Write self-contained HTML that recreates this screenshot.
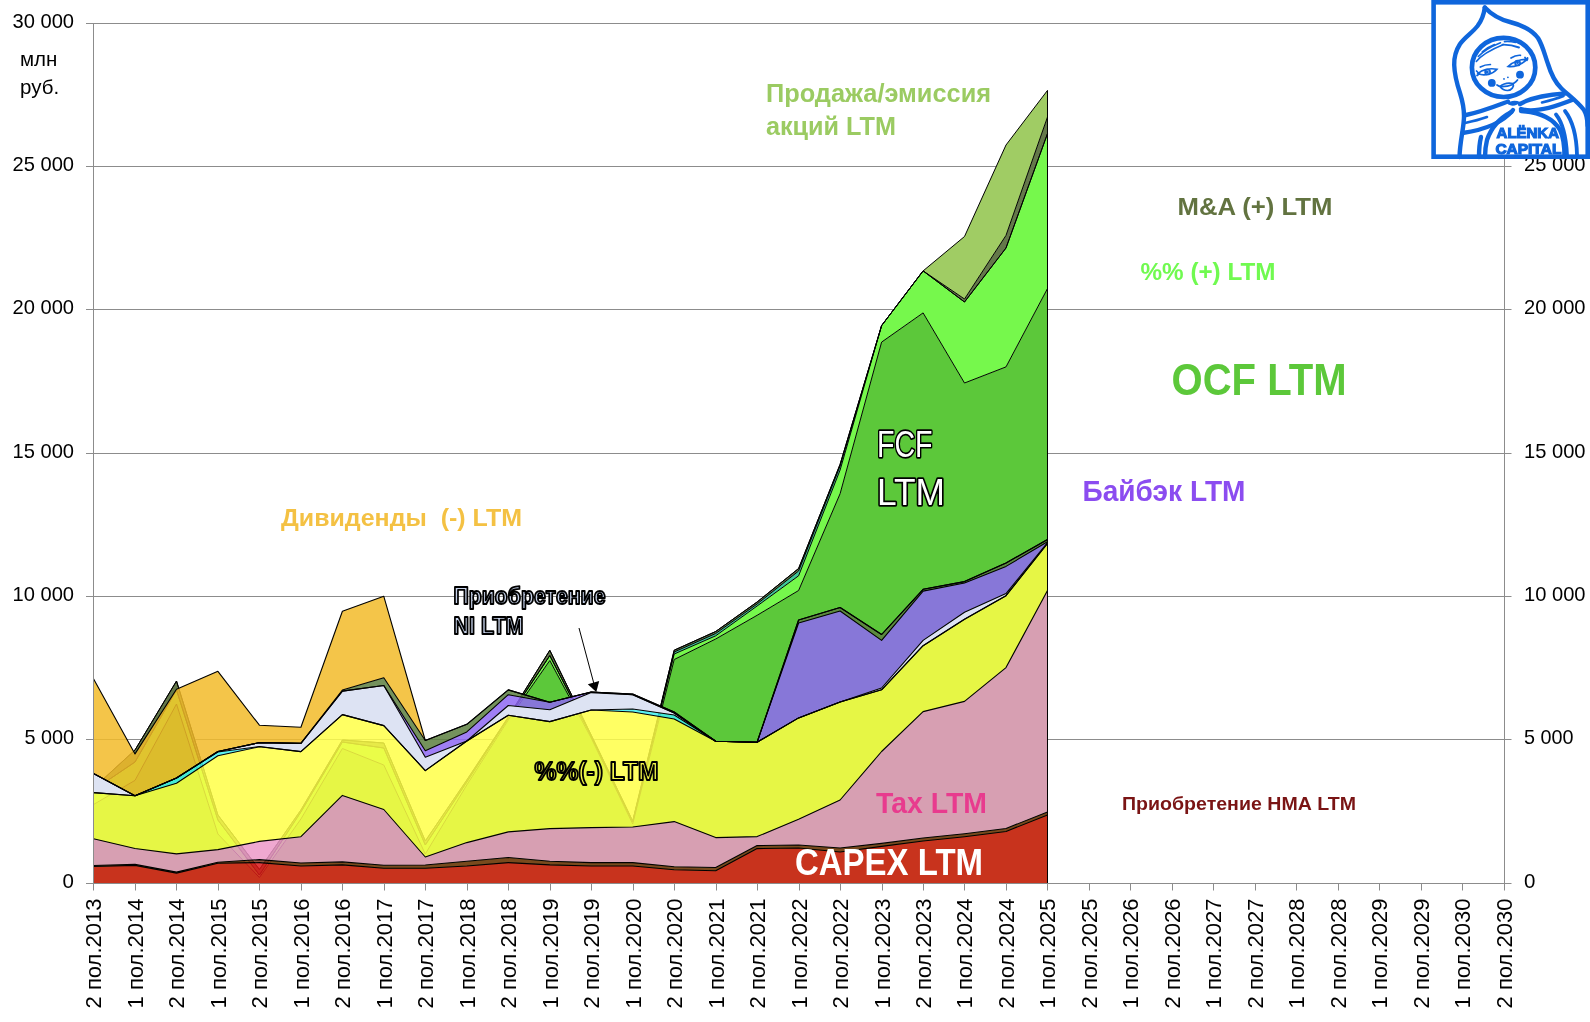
<!DOCTYPE html><html><head><meta charset="utf-8"><title>chart</title><style>html,body{margin:0;padding:0;background:#fff;width:1590px;height:1022px;overflow:hidden}svg{display:block;will-change:transform;font-family:"Liberation Sans",sans-serif}</style></head><body>
<svg width="1590" height="1022" viewBox="0 0 1590 1022">
<rect width="1590" height="1022" fill="#fff"/>
<line x1="86" y1="23.5" x2="1511.5" y2="23.5" stroke="#8c8c8c" stroke-width="1"/>
<line x1="86" y1="166.5" x2="1511.5" y2="166.5" stroke="#8c8c8c" stroke-width="1"/>
<line x1="86" y1="309.5" x2="1511.5" y2="309.5" stroke="#8c8c8c" stroke-width="1"/>
<line x1="86" y1="453.5" x2="1511.5" y2="453.5" stroke="#8c8c8c" stroke-width="1"/>
<line x1="86" y1="596.5" x2="1511.5" y2="596.5" stroke="#8c8c8c" stroke-width="1"/>
<line x1="86" y1="739.5" x2="1511.5" y2="739.5" stroke="#8c8c8c" stroke-width="1"/>
<polygon points="93.5,804.5 135.0,780.4 176.5,704.0 217.9,834.0 259.4,877.5 300.9,819.0 342.4,748.5 383.8,765.0 425.3,854.0 466.8,785.0 508.3,720.0 549.8,660.5 591.2,738.0 632.7,824.0 674.2,659.5 715.7,639.0 757.1,615.3 798.6,590.5 840.1,493.7 881.6,342.1 923.1,312.9 964.5,383.0 1006.0,366.9 1047.5,288.5 1047.5,883.5 1006.0,883.5 964.5,883.5 923.1,883.5 881.6,883.5 840.1,883.5 798.6,883.5 757.1,883.5 715.7,883.5 674.2,883.5 632.7,883.5 591.2,883.5 549.8,883.5 508.3,883.5 466.8,883.5 425.3,883.5 383.8,883.5 342.4,883.5 300.9,883.5 259.4,883.5 217.9,883.5 176.5,883.5 135.0,883.5 93.5,883.5" fill="#5cc83a"/>
<polygon points="93.5,790.0 135.0,762.0 176.5,690.0 217.9,820.0 259.4,875.0 300.9,812.0 342.4,742.0 383.8,748.0 425.3,845.0 466.8,782.0 508.3,718.0 549.8,655.6 591.2,736.0 632.7,822.0 674.2,654.0 715.7,635.8 757.1,606.0 798.6,575.8 840.1,470.0 881.6,325.6 923.1,270.9 964.5,302.0 1006.0,248.0 1047.5,133.6 1047.5,288.5 1006.0,366.9 964.5,383.0 923.1,312.9 881.6,342.1 840.1,493.7 798.6,590.5 757.1,615.3 715.7,639.0 674.2,659.5 632.7,824.0 591.2,738.0 549.8,660.5 508.3,720.0 466.8,785.0 425.3,854.0 383.8,765.0 342.4,748.5 300.9,819.0 259.4,877.5 217.9,834.0 176.5,704.0 135.0,780.4 93.5,804.5" fill="#76f84c"/>
<polygon points="93.5,790.0 135.0,762.0 176.5,690.0 217.9,820.0 259.4,875.0 300.9,812.0 342.4,742.0 383.8,748.0 425.3,845.0 466.8,782.0 508.3,718.0 549.8,655.6 591.2,736.0 632.7,822.0 674.2,652.0 715.7,633.5 757.1,604.0 798.6,571.0 840.1,466.0 881.6,325.6 923.1,270.9 964.5,302.0 1006.0,248.0 1047.5,133.6 1047.5,133.6 1006.0,248.0 964.5,302.0 923.1,270.9 881.6,325.6 840.1,470.0 798.6,575.8 757.1,606.0 715.7,635.8 674.2,654.0 632.7,822.0 591.2,736.0 549.8,655.6 508.3,718.0 466.8,782.0 425.3,845.0 383.8,748.0 342.4,742.0 300.9,812.0 259.4,875.0 217.9,820.0 176.5,690.0 135.0,762.0 93.5,790.0" fill="#3fc79b"/>
<polygon points="93.5,788.0 135.0,750.0 176.5,681.0 217.9,815.0 259.4,869.5 300.9,810.0 342.4,740.0 383.8,743.0 425.3,841.0 466.8,780.0 508.3,717.0 549.8,650.3 591.2,735.0 632.7,821.0 674.2,650.2 715.7,631.5 757.1,602.0 798.6,568.5 840.1,464.3 881.6,325.6 923.1,270.9 964.5,299.0 1006.0,235.4 1047.5,117.0 1047.5,133.6 1006.0,248.0 964.5,302.0 923.1,270.9 881.6,325.6 840.1,466.0 798.6,571.0 757.1,604.0 715.7,633.5 674.2,652.0 632.7,822.0 591.2,736.0 549.8,655.6 508.3,718.0 466.8,782.0 425.3,845.0 383.8,748.0 342.4,742.0 300.9,812.0 259.4,875.0 217.9,820.0 176.5,690.0 135.0,762.0 93.5,790.0" fill="#64784a"/>
<polygon points="93.5,788.0 135.0,750.0 176.5,681.0 217.9,815.0 259.4,869.5 300.9,810.0 342.4,740.0 383.8,743.0 425.3,841.0 466.8,780.0 508.3,717.0 549.8,650.3 591.2,735.0 632.7,821.0 674.2,650.2 715.7,631.5 757.1,602.0 798.6,568.5 840.1,464.3 881.6,325.6 923.1,270.9 964.5,236.5 1006.0,145.0 1047.5,90.4 1047.5,117.0 1006.0,235.4 964.5,299.0 923.1,270.9 881.6,325.6 840.1,464.3 798.6,568.5 757.1,602.0 715.7,631.5 674.2,650.2 632.7,821.0 591.2,735.0 549.8,650.3 508.3,717.0 466.8,780.0 425.3,841.0 383.8,743.0 342.4,740.0 300.9,810.0 259.4,869.5 217.9,815.0 176.5,681.0 135.0,750.0 93.5,788.0" fill="#a0cc64"/>
<polyline points="93.5,804.5 135.0,780.4 176.5,704.0 217.9,834.0 259.4,877.5 300.9,819.0 342.4,748.5 383.8,765.0 425.3,854.0 466.8,785.0 508.3,720.0 549.8,660.5 591.2,738.0 632.7,824.0 674.2,659.5 715.7,639.0 757.1,615.3 798.6,590.5 840.1,493.7 881.6,342.1 923.1,312.9 964.5,383.0 1006.0,366.9 1047.5,288.5" fill="none" stroke="#000" stroke-width="1.0" stroke-linejoin="round"/>
<polyline points="93.5,790.0 135.0,762.0 176.5,690.0 217.9,820.0 259.4,875.0 300.9,812.0 342.4,742.0 383.8,748.0 425.3,845.0 466.8,782.0 508.3,718.0 549.8,655.6 591.2,736.0 632.7,822.0 674.2,654.0 715.7,635.8 757.1,606.0 798.6,575.8 840.1,470.0 881.6,325.6 923.1,270.9 964.5,302.0 1006.0,248.0 1047.5,133.6" fill="none" stroke="#000" stroke-width="1.0" stroke-linejoin="round"/>
<polyline points="93.5,790.0 135.0,762.0 176.5,690.0 217.9,820.0 259.4,875.0 300.9,812.0 342.4,742.0 383.8,748.0 425.3,845.0 466.8,782.0 508.3,718.0 549.8,655.6 591.2,736.0 632.7,822.0 674.2,652.0 715.7,633.5 757.1,604.0 798.6,571.0 840.1,466.0 881.6,325.6 923.1,270.9 964.5,302.0 1006.0,248.0 1047.5,133.6" fill="none" stroke="#000" stroke-width="1.0" stroke-linejoin="round"/>
<polyline points="93.5,788.0 135.0,750.0 176.5,681.0 217.9,815.0 259.4,869.5 300.9,810.0 342.4,740.0 383.8,743.0 425.3,841.0 466.8,780.0 508.3,717.0 549.8,650.3 591.2,735.0 632.7,821.0 674.2,650.2 715.7,631.5 757.1,602.0 798.6,568.5 840.1,464.3 881.6,325.6 923.1,270.9 964.5,299.0 1006.0,235.4 1047.5,117.0" fill="none" stroke="#000" stroke-width="1.0" stroke-linejoin="round"/>
<polyline points="93.5,788.0 135.0,750.0 176.5,681.0 217.9,815.0 259.4,869.5 300.9,810.0 342.4,740.0 383.8,743.0 425.3,841.0 466.8,780.0 508.3,717.0 549.8,650.3 591.2,735.0 632.7,821.0 674.2,650.2 715.7,631.5 757.1,602.0 798.6,568.5 840.1,464.3 881.6,325.6 923.1,270.9 964.5,236.5 1006.0,145.0 1047.5,90.4" fill="none" stroke="#000" stroke-width="1.0" stroke-linejoin="round"/>
<g opacity="0.85">
<polygon points="93.5,866.5 135.0,865.4 176.5,873.1 217.9,863.2 259.4,862.6 300.9,866.0 342.4,864.9 383.8,868.3 425.3,868.3 466.8,866.0 508.3,862.6 549.8,864.9 591.2,866.0 632.7,866.0 674.2,869.7 715.7,870.8 757.1,848.6 798.6,848.0 840.1,852.0 881.6,846.4 923.1,841.0 964.5,836.7 1006.0,831.5 1047.5,814.9 1047.5,883.5 1006.0,883.5 964.5,883.5 923.1,883.5 881.6,883.5 840.1,883.5 798.6,883.5 757.1,883.5 715.7,883.5 674.2,883.5 632.7,883.5 591.2,883.5 549.8,883.5 508.3,883.5 466.8,883.5 425.3,883.5 383.8,883.5 342.4,883.5 300.9,883.5 259.4,883.5 217.9,883.5 176.5,883.5 135.0,883.5 93.5,883.5" fill="#db1a19"/>
<polygon points="93.5,865.5 135.0,864.4 176.5,872.1 217.9,862.2 259.4,859.6 300.9,863.0 342.4,861.9 383.8,865.3 425.3,865.0 466.8,861.2 508.3,857.5 549.8,861.2 591.2,862.6 632.7,862.6 674.2,866.7 715.7,867.5 757.1,845.6 798.6,845.0 840.1,848.0 881.6,843.4 923.1,838.0 964.5,833.7 1006.0,828.5 1047.5,811.9 1047.5,814.9 1006.0,831.5 964.5,836.7 923.1,841.0 881.6,846.4 840.1,852.0 798.6,848.0 757.1,848.6 715.7,870.8 674.2,869.7 632.7,866.0 591.2,866.0 549.8,864.9 508.3,862.6 466.8,866.0 425.3,868.3 383.8,868.3 342.4,864.9 300.9,866.0 259.4,862.6 217.9,863.2 176.5,873.1 135.0,865.4 93.5,866.5" fill="#7d3519"/>
<polygon points="93.5,838.8 135.0,848.5 176.5,853.9 217.9,849.6 259.4,841.4 300.9,836.7 342.4,795.4 383.8,809.5 425.3,857.0 466.8,842.6 508.3,831.9 549.8,828.6 591.2,827.6 632.7,827.0 674.2,821.6 715.7,837.6 757.1,836.6 798.6,819.3 840.1,800.0 881.6,751.5 923.1,711.6 964.5,701.4 1006.0,667.6 1047.5,590.4 1047.5,811.9 1006.0,828.5 964.5,833.7 923.1,838.0 881.6,843.4 840.1,848.0 798.6,845.0 757.1,845.6 715.7,867.5 674.2,866.7 632.7,862.6 591.2,862.6 549.8,861.2 508.3,857.5 466.8,861.2 425.3,865.0 383.8,865.3 342.4,861.9 300.9,863.0 259.4,859.6 217.9,862.2 176.5,872.1 135.0,864.4 93.5,865.5" fill="#ed99c8"/>
<polygon points="93.5,792.6 135.0,795.7 176.5,783.2 217.9,755.8 259.4,746.8 300.9,751.6 342.4,714.6 383.8,725.6 425.3,770.6 466.8,741.0 508.3,715.2 549.8,721.6 591.2,710.0 632.7,712.0 674.2,719.0 715.7,741.2 757.1,742.2 798.6,717.9 840.1,702.0 881.6,689.8 923.1,645.7 964.5,619.3 1006.0,595.7 1047.5,543.5 1047.5,590.4 1006.0,667.6 964.5,701.4 923.1,711.6 881.6,751.5 840.1,800.0 798.6,819.3 757.1,836.6 715.7,837.6 674.2,821.6 632.7,827.0 591.2,827.6 549.8,828.6 508.3,831.9 466.8,842.6 425.3,857.0 383.8,809.5 342.4,795.4 300.9,836.7 259.4,841.4 217.9,849.6 176.5,853.9 135.0,848.5 93.5,838.8" fill="#ffff48"/>
<polygon points="93.5,792.6 135.0,795.7 176.5,778.0 217.9,752.0 259.4,746.5 300.9,751.6 342.4,714.6 383.8,725.6 425.3,770.6 466.8,741.0 508.3,715.2 549.8,721.6 591.2,710.0 632.7,709.0 674.2,715.0 715.7,741.2 757.1,742.2 798.6,717.9 840.1,702.0 881.6,689.8 923.1,645.7 964.5,619.3 1006.0,595.7 1047.5,543.5 1047.5,543.5 1006.0,595.7 964.5,619.3 923.1,645.7 881.6,689.8 840.1,702.0 798.6,717.9 757.1,742.2 715.7,741.2 674.2,719.0 632.7,712.0 591.2,710.0 549.8,721.6 508.3,715.2 466.8,741.0 425.3,770.6 383.8,725.6 342.4,714.6 300.9,751.6 259.4,746.8 217.9,755.8 176.5,783.2 135.0,795.7 93.5,792.6" fill="#40f0f0"/>
<polygon points="93.5,773.4 135.0,795.7 176.5,778.0 217.9,751.5 259.4,742.6 300.9,743.4 342.4,691.1 383.8,685.5 425.3,750.7 466.8,731.9 508.3,694.7 549.8,702.3 591.2,692.0 632.7,694.7 674.2,713.0 715.7,741.2 757.1,742.2 798.6,623.0 840.1,611.0 881.6,640.4 923.1,591.1 964.5,583.0 1006.0,566.4 1047.5,541.8 1047.5,542.5 1006.0,593.6 964.5,612.2 923.1,640.4 881.6,688.0 840.1,702.0 798.6,717.9 757.1,742.2 715.7,741.2 674.2,713.0 632.7,694.7 591.2,692.6 549.8,709.8 508.3,705.5 466.8,741.0 425.3,757.2 383.8,685.5 342.4,691.1 300.9,743.4 259.4,742.6 217.9,751.5 176.5,778.0 135.0,795.7 93.5,773.4" fill="#8f69f4"/>
<polygon points="93.5,773.4 135.0,795.7 176.5,778.0 217.9,751.5 259.4,742.6 300.9,743.4 342.4,690.0 383.8,677.7 425.3,740.5 466.8,724.3 508.3,689.9 549.8,702.3 591.2,692.0 632.7,694.0 674.2,712.0 715.7,741.2 757.1,742.2 798.6,620.0 840.1,607.5 881.6,634.5 923.1,589.3 964.5,581.6 1006.0,562.9 1047.5,539.5 1047.5,541.8 1006.0,566.4 964.5,583.0 923.1,591.1 881.6,640.4 840.1,611.0 798.6,623.0 757.1,742.2 715.7,741.2 674.2,713.0 632.7,694.7 591.2,692.0 549.8,702.3 508.3,694.7 466.8,731.9 425.3,750.7 383.8,685.5 342.4,691.1 300.9,743.4 259.4,742.6 217.9,751.5 176.5,778.0 135.0,795.7 93.5,773.4" fill="#5c8040"/>
<polygon points="93.5,678.8 135.0,753.9 176.5,689.3 217.9,671.3 259.4,725.2 300.9,727.2 342.4,611.3 383.8,596.3 425.3,740.5 466.8,724.3 508.3,689.9 549.8,702.3 591.2,692.0 632.7,694.0 674.2,712.0 715.7,741.2 757.1,742.2 798.6,620.0 840.1,607.5 881.6,634.5 923.1,589.3 964.5,581.6 1006.0,562.9 1047.5,539.5 1047.5,539.5 1006.0,562.9 964.5,581.6 923.1,589.3 881.6,634.5 840.1,607.5 798.6,620.0 757.1,742.2 715.7,741.2 674.2,712.0 632.7,694.0 591.2,692.0 549.8,702.3 508.3,689.9 466.8,724.3 425.3,740.5 383.8,677.7 342.4,690.0 300.9,743.4 259.4,742.6 217.9,751.5 176.5,778.0 135.0,795.7 93.5,773.4" fill="#f3bb2a"/>
</g>
<polygon points="93.5,773.4 135.0,795.7 176.5,778.0 217.9,751.5 259.4,742.6 300.9,743.4 342.4,691.1 383.8,685.5 425.3,757.2 466.8,741.0 508.3,705.5 549.8,709.8 591.2,692.6 632.7,694.7 674.2,713.0 715.7,741.2 757.1,742.2 798.6,717.9 840.1,702.0 881.6,688.0 923.1,640.4 964.5,612.2 1006.0,593.6 1047.5,542.5 1047.5,543.5 1006.0,595.7 964.5,619.3 923.1,645.7 881.6,689.8 840.1,702.0 798.6,717.9 757.1,742.2 715.7,741.2 674.2,715.0 632.7,709.0 591.2,710.0 549.8,721.6 508.3,715.2 466.8,741.0 425.3,770.6 383.8,725.6 342.4,714.6 300.9,751.6 259.4,746.5 217.9,752.0 176.5,778.0 135.0,795.7 93.5,792.6" fill="#dde3f3"/>
<polyline points="93.5,866.5 135.0,865.4 176.5,873.1 217.9,863.2 259.4,862.6 300.9,866.0 342.4,864.9 383.8,868.3 425.3,868.3 466.8,866.0 508.3,862.6 549.8,864.9 591.2,866.0 632.7,866.0 674.2,869.7 715.7,870.8 757.1,848.6 798.6,848.0 840.1,852.0 881.6,846.4 923.1,841.0 964.5,836.7 1006.0,831.5 1047.5,814.9" fill="none" stroke="#000" stroke-width="1.1" stroke-linejoin="round"/>
<polyline points="93.5,865.5 135.0,864.4 176.5,872.1 217.9,862.2 259.4,859.6 300.9,863.0 342.4,861.9 383.8,865.3 425.3,865.0 466.8,861.2 508.3,857.5 549.8,861.2 591.2,862.6 632.7,862.6 674.2,866.7 715.7,867.5 757.1,845.6 798.6,845.0 840.1,848.0 881.6,843.4 923.1,838.0 964.5,833.7 1006.0,828.5 1047.5,811.9" fill="none" stroke="#000" stroke-width="1.1" stroke-linejoin="round"/>
<polyline points="93.5,838.8 135.0,848.5 176.5,853.9 217.9,849.6 259.4,841.4 300.9,836.7 342.4,795.4 383.8,809.5 425.3,857.0 466.8,842.6 508.3,831.9 549.8,828.6 591.2,827.6 632.7,827.0 674.2,821.6 715.7,837.6 757.1,836.6 798.6,819.3 840.1,800.0 881.6,751.5 923.1,711.6 964.5,701.4 1006.0,667.6 1047.5,590.4" fill="none" stroke="#000" stroke-width="1.1" stroke-linejoin="round"/>
<polyline points="93.5,792.6 135.0,795.7 176.5,783.2 217.9,755.8 259.4,746.8 300.9,751.6 342.4,714.6 383.8,725.6 425.3,770.6 466.8,741.0 508.3,715.2 549.8,721.6 591.2,710.0 632.7,712.0 674.2,719.0 715.7,741.2 757.1,742.2 798.6,717.9 840.1,702.0 881.6,689.8 923.1,645.7 964.5,619.3 1006.0,595.7 1047.5,543.5" fill="none" stroke="#000" stroke-width="1.1" stroke-linejoin="round"/>
<polyline points="93.5,792.6 135.0,795.7 176.5,778.0 217.9,752.0 259.4,746.5 300.9,751.6 342.4,714.6 383.8,725.6 425.3,770.6 466.8,741.0 508.3,715.2 549.8,721.6 591.2,710.0 632.7,709.0 674.2,715.0 715.7,741.2 757.1,742.2 798.6,717.9 840.1,702.0 881.6,689.8 923.1,645.7 964.5,619.3 1006.0,595.7 1047.5,543.5" fill="none" stroke="#000" stroke-width="1.1" stroke-linejoin="round"/>
<polyline points="93.5,773.4 135.0,795.7 176.5,778.0 217.9,751.5 259.4,742.6 300.9,743.4 342.4,691.1 383.8,685.5 425.3,757.2 466.8,741.0 508.3,705.5 549.8,709.8 591.2,692.6 632.7,694.7 674.2,713.0 715.7,741.2 757.1,742.2 798.6,717.9 840.1,702.0 881.6,688.0 923.1,640.4 964.5,612.2 1006.0,593.6 1047.5,542.5" fill="none" stroke="#000" stroke-width="1.1" stroke-linejoin="round"/>
<polyline points="93.5,773.4 135.0,795.7 176.5,778.0 217.9,751.5 259.4,742.6 300.9,743.4 342.4,691.1 383.8,685.5 425.3,750.7 466.8,731.9 508.3,694.7 549.8,702.3 591.2,692.0 632.7,694.7 674.2,713.0 715.7,741.2 757.1,742.2 798.6,623.0 840.1,611.0 881.6,640.4 923.1,591.1 964.5,583.0 1006.0,566.4 1047.5,541.8" fill="none" stroke="#000" stroke-width="1.1" stroke-linejoin="round"/>
<polyline points="93.5,773.4 135.0,795.7 176.5,778.0 217.9,751.5 259.4,742.6 300.9,743.4 342.4,690.0 383.8,677.7 425.3,740.5 466.8,724.3 508.3,689.9 549.8,702.3 591.2,692.0 632.7,694.0 674.2,712.0 715.7,741.2 757.1,742.2 798.6,620.0 840.1,607.5 881.6,634.5 923.1,589.3 964.5,581.6 1006.0,562.9 1047.5,539.5" fill="none" stroke="#000" stroke-width="1.1" stroke-linejoin="round"/>
<polyline points="93.5,678.8 135.0,753.9 176.5,689.3 217.9,671.3 259.4,725.2 300.9,727.2 342.4,611.3 383.8,596.3 425.3,740.5 466.8,724.3 508.3,689.9 549.8,702.3 591.2,692.0 632.7,694.0 674.2,712.0 715.7,741.2 757.1,742.2 798.6,620.0 840.1,607.5 881.6,634.5 923.1,589.3 964.5,581.6 1006.0,562.9 1047.5,539.5" fill="none" stroke="#000" stroke-width="1.1" stroke-linejoin="round"/>
<line x1="1047.4940000000001" y1="90.4" x2="1047.4940000000001" y2="883.5" stroke="#000" stroke-width="1"/>
<line x1="93.5" y1="23" x2="93.5" y2="884" stroke="#8c8c8c" stroke-width="1"/>
<line x1="1504.5" y1="23" x2="1504.5" y2="884" stroke="#8c8c8c" stroke-width="1"/>
<line x1="86" y1="883.5" x2="1511.5" y2="883.5" stroke="#8c8c8c" stroke-width="1"/>
<line x1="93.5" y1="883" x2="93.5" y2="890.5" stroke="#8c8c8c" stroke-width="1"/>
<line x1="135.5" y1="883" x2="135.5" y2="890.5" stroke="#8c8c8c" stroke-width="1"/>
<line x1="176.5" y1="883" x2="176.5" y2="890.5" stroke="#8c8c8c" stroke-width="1"/>
<line x1="218.5" y1="883" x2="218.5" y2="890.5" stroke="#8c8c8c" stroke-width="1"/>
<line x1="259.5" y1="883" x2="259.5" y2="890.5" stroke="#8c8c8c" stroke-width="1"/>
<line x1="301.5" y1="883" x2="301.5" y2="890.5" stroke="#8c8c8c" stroke-width="1"/>
<line x1="342.5" y1="883" x2="342.5" y2="890.5" stroke="#8c8c8c" stroke-width="1"/>
<line x1="384.5" y1="883" x2="384.5" y2="890.5" stroke="#8c8c8c" stroke-width="1"/>
<line x1="425.5" y1="883" x2="425.5" y2="890.5" stroke="#8c8c8c" stroke-width="1"/>
<line x1="467.5" y1="883" x2="467.5" y2="890.5" stroke="#8c8c8c" stroke-width="1"/>
<line x1="508.5" y1="883" x2="508.5" y2="890.5" stroke="#8c8c8c" stroke-width="1"/>
<line x1="550.5" y1="883" x2="550.5" y2="890.5" stroke="#8c8c8c" stroke-width="1"/>
<line x1="591.5" y1="883" x2="591.5" y2="890.5" stroke="#8c8c8c" stroke-width="1"/>
<line x1="633.5" y1="883" x2="633.5" y2="890.5" stroke="#8c8c8c" stroke-width="1"/>
<line x1="674.5" y1="883" x2="674.5" y2="890.5" stroke="#8c8c8c" stroke-width="1"/>
<line x1="716.5" y1="883" x2="716.5" y2="890.5" stroke="#8c8c8c" stroke-width="1"/>
<line x1="757.5" y1="883" x2="757.5" y2="890.5" stroke="#8c8c8c" stroke-width="1"/>
<line x1="799.5" y1="883" x2="799.5" y2="890.5" stroke="#8c8c8c" stroke-width="1"/>
<line x1="840.5" y1="883" x2="840.5" y2="890.5" stroke="#8c8c8c" stroke-width="1"/>
<line x1="882.5" y1="883" x2="882.5" y2="890.5" stroke="#8c8c8c" stroke-width="1"/>
<line x1="923.5" y1="883" x2="923.5" y2="890.5" stroke="#8c8c8c" stroke-width="1"/>
<line x1="964.5" y1="883" x2="964.5" y2="890.5" stroke="#8c8c8c" stroke-width="1"/>
<line x1="1006.5" y1="883" x2="1006.5" y2="890.5" stroke="#8c8c8c" stroke-width="1"/>
<line x1="1047.5" y1="883" x2="1047.5" y2="890.5" stroke="#8c8c8c" stroke-width="1"/>
<line x1="1089.5" y1="883" x2="1089.5" y2="890.5" stroke="#8c8c8c" stroke-width="1"/>
<line x1="1130.5" y1="883" x2="1130.5" y2="890.5" stroke="#8c8c8c" stroke-width="1"/>
<line x1="1172.5" y1="883" x2="1172.5" y2="890.5" stroke="#8c8c8c" stroke-width="1"/>
<line x1="1213.5" y1="883" x2="1213.5" y2="890.5" stroke="#8c8c8c" stroke-width="1"/>
<line x1="1255.5" y1="883" x2="1255.5" y2="890.5" stroke="#8c8c8c" stroke-width="1"/>
<line x1="1296.5" y1="883" x2="1296.5" y2="890.5" stroke="#8c8c8c" stroke-width="1"/>
<line x1="1338.5" y1="883" x2="1338.5" y2="890.5" stroke="#8c8c8c" stroke-width="1"/>
<line x1="1379.5" y1="883" x2="1379.5" y2="890.5" stroke="#8c8c8c" stroke-width="1"/>
<line x1="1421.5" y1="883" x2="1421.5" y2="890.5" stroke="#8c8c8c" stroke-width="1"/>
<line x1="1462.5" y1="883" x2="1462.5" y2="890.5" stroke="#8c8c8c" stroke-width="1"/>
<line x1="1504.5" y1="883" x2="1504.5" y2="890.5" stroke="#8c8c8c" stroke-width="1"/>
<text x="74" y="887.8" font-size="20.6" text-anchor="end" textLength="11.4" lengthAdjust="spacingAndGlyphs">0</text>
<text x="1524" y="887.8" font-size="20.6" textLength="11.4" lengthAdjust="spacingAndGlyphs">0</text>
<text x="74" y="743.8" font-size="20.6" text-anchor="end" textLength="49.5" lengthAdjust="spacingAndGlyphs">5 000</text>
<text x="1524" y="743.8" font-size="20.6" textLength="49.5" lengthAdjust="spacingAndGlyphs">5 000</text>
<text x="74" y="600.8" font-size="20.6" text-anchor="end" textLength="61.5" lengthAdjust="spacingAndGlyphs">10 000</text>
<text x="1524" y="600.8" font-size="20.6" textLength="61.5" lengthAdjust="spacingAndGlyphs">10 000</text>
<text x="74" y="457.8" font-size="20.6" text-anchor="end" textLength="61.5" lengthAdjust="spacingAndGlyphs">15 000</text>
<text x="1524" y="457.8" font-size="20.6" textLength="61.5" lengthAdjust="spacingAndGlyphs">15 000</text>
<text x="74" y="313.8" font-size="20.6" text-anchor="end" textLength="61.5" lengthAdjust="spacingAndGlyphs">20 000</text>
<text x="1524" y="313.8" font-size="20.6" textLength="61.5" lengthAdjust="spacingAndGlyphs">20 000</text>
<text x="74" y="170.8" font-size="20.6" text-anchor="end" textLength="61.5" lengthAdjust="spacingAndGlyphs">25 000</text>
<text x="1524" y="170.8" font-size="20.6" textLength="61.5" lengthAdjust="spacingAndGlyphs">25 000</text>
<text x="74" y="27.8" font-size="20.6" text-anchor="end" textLength="61.5" lengthAdjust="spacingAndGlyphs">30 000</text>
<text x="20" y="66" font-size="20.5">млн</text>
<text x="20" y="93.5" font-size="20.5">руб.</text>
<text transform="translate(100.7,898.5) rotate(-90)" font-size="22" text-anchor="end">2 пол.2013</text>
<text transform="translate(142.7,898.5) rotate(-90)" font-size="22" text-anchor="end">1 пол.2014</text>
<text transform="translate(183.7,898.5) rotate(-90)" font-size="22" text-anchor="end">2 пол.2014</text>
<text transform="translate(225.7,898.5) rotate(-90)" font-size="22" text-anchor="end">1 пол.2015</text>
<text transform="translate(266.7,898.5) rotate(-90)" font-size="22" text-anchor="end">2 пол.2015</text>
<text transform="translate(308.7,898.5) rotate(-90)" font-size="22" text-anchor="end">1 пол.2016</text>
<text transform="translate(349.7,898.5) rotate(-90)" font-size="22" text-anchor="end">2 пол.2016</text>
<text transform="translate(391.7,898.5) rotate(-90)" font-size="22" text-anchor="end">1 пол.2017</text>
<text transform="translate(432.7,898.5) rotate(-90)" font-size="22" text-anchor="end">2 пол.2017</text>
<text transform="translate(474.7,898.5) rotate(-90)" font-size="22" text-anchor="end">1 пол.2018</text>
<text transform="translate(515.7,898.5) rotate(-90)" font-size="22" text-anchor="end">2 пол.2018</text>
<text transform="translate(557.7,898.5) rotate(-90)" font-size="22" text-anchor="end">1 пол.2019</text>
<text transform="translate(598.7,898.5) rotate(-90)" font-size="22" text-anchor="end">2 пол.2019</text>
<text transform="translate(640.7,898.5) rotate(-90)" font-size="22" text-anchor="end">1 пол.2020</text>
<text transform="translate(681.7,898.5) rotate(-90)" font-size="22" text-anchor="end">2 пол.2020</text>
<text transform="translate(723.7,898.5) rotate(-90)" font-size="22" text-anchor="end">1 пол.2021</text>
<text transform="translate(764.7,898.5) rotate(-90)" font-size="22" text-anchor="end">2 пол.2021</text>
<text transform="translate(806.7,898.5) rotate(-90)" font-size="22" text-anchor="end">1 пол.2022</text>
<text transform="translate(847.7,898.5) rotate(-90)" font-size="22" text-anchor="end">2 пол.2022</text>
<text transform="translate(889.7,898.5) rotate(-90)" font-size="22" text-anchor="end">1 пол.2023</text>
<text transform="translate(930.7,898.5) rotate(-90)" font-size="22" text-anchor="end">2 пол.2023</text>
<text transform="translate(971.7,898.5) rotate(-90)" font-size="22" text-anchor="end">1 пол.2024</text>
<text transform="translate(1013.7,898.5) rotate(-90)" font-size="22" text-anchor="end">2 пол.2024</text>
<text transform="translate(1054.7,898.5) rotate(-90)" font-size="22" text-anchor="end">1 пол.2025</text>
<text transform="translate(1096.7,898.5) rotate(-90)" font-size="22" text-anchor="end">2 пол.2025</text>
<text transform="translate(1137.7,898.5) rotate(-90)" font-size="22" text-anchor="end">1 пол.2026</text>
<text transform="translate(1179.7,898.5) rotate(-90)" font-size="22" text-anchor="end">2 пол.2026</text>
<text transform="translate(1220.7,898.5) rotate(-90)" font-size="22" text-anchor="end">1 пол.2027</text>
<text transform="translate(1262.7,898.5) rotate(-90)" font-size="22" text-anchor="end">2 пол.2027</text>
<text transform="translate(1303.7,898.5) rotate(-90)" font-size="22" text-anchor="end">1 пол.2028</text>
<text transform="translate(1345.7,898.5) rotate(-90)" font-size="22" text-anchor="end">2 пол.2028</text>
<text transform="translate(1386.7,898.5) rotate(-90)" font-size="22" text-anchor="end">1 пол.2029</text>
<text transform="translate(1428.7,898.5) rotate(-90)" font-size="22" text-anchor="end">2 пол.2029</text>
<text transform="translate(1469.7,898.5) rotate(-90)" font-size="22" text-anchor="end">1 пол.2030</text>
<text transform="translate(1511.7,898.5) rotate(-90)" font-size="22" text-anchor="end">2 пол.2030</text>
<line x1="579" y1="628" x2="594" y2="684" stroke="#000" stroke-width="1"/>
<polygon points="587.8,684.3 599.2,681.1 596.3,692" fill="#000"/>
<text x="766" y="101.9" font-size="25" fill="#9bcb62" font-weight="bold" textLength="225" lengthAdjust="spacingAndGlyphs">Продажа/эмиссия</text>
<text x="766" y="135.4" font-size="25" fill="#9bcb62" font-weight="bold" textLength="130" lengthAdjust="spacingAndGlyphs">акций LTM</text>
<text x="1177.5" y="215.4" font-size="24" fill="#627340" font-weight="bold" textLength="155" lengthAdjust="spacingAndGlyphs">M&amp;A (+) LTM</text>
<text x="1140.5" y="279.8" font-size="24.5" fill="#70fa50" font-weight="bold" textLength="135" lengthAdjust="spacingAndGlyphs">%% (+) LTM</text>
<text x="1171.5" y="395.3" font-size="44" fill="#5cc83a" font-weight="bold" textLength="175" lengthAdjust="spacingAndGlyphs">OCF LTM</text>
<text x="877" y="457.2" font-size="36" fill="#fff" textLength="55.5" lengthAdjust="spacingAndGlyphs" stroke="#000" stroke-width="3.4" stroke-linejoin="round" paint-order="stroke">FCF</text>
<text x="877" y="504.6" font-size="36" fill="#fff" textLength="68" lengthAdjust="spacingAndGlyphs" stroke="#000" stroke-width="3.4" stroke-linejoin="round" paint-order="stroke">LTM</text>
<text x="1082.5" y="501" font-size="29" fill="#8b4cf0" font-weight="bold" textLength="163" lengthAdjust="spacingAndGlyphs">Байбэк LTM</text>
<text x="281" y="526.4" font-size="24.4" fill="#f4c143" font-weight="bold" textLength="241" lengthAdjust="spacingAndGlyphs" xml:space="preserve">Дивиденды  (-) LTM</text>
<text x="453.5" y="603.9" font-size="23" fill="#c8d4ec" font-weight="bold" textLength="152" lengthAdjust="spacingAndGlyphs" stroke="#000" stroke-width="1.9" stroke-linejoin="round">Приобретение</text>
<text x="453.5" y="633.9" font-size="23" fill="#c8d4ec" font-weight="bold" textLength="70" lengthAdjust="spacingAndGlyphs" stroke="#000" stroke-width="1.9" stroke-linejoin="round">NI LTM</text>
<text x="534.5" y="779.6" font-size="26" fill="#f6f84a" font-weight="bold" textLength="124" lengthAdjust="spacingAndGlyphs" stroke="#000" stroke-width="2.0" stroke-linejoin="round">%%(-) LTM</text>
<text x="876" y="812.5" font-size="29" fill="#e83b8e" font-weight="bold" textLength="111" lengthAdjust="spacingAndGlyphs">Tax LTM</text>
<text x="1122" y="809.5" font-size="18.7" fill="#7a1414" font-weight="bold" textLength="234" lengthAdjust="spacingAndGlyphs">Приобретение НМА LTM</text>
<text x="795" y="874.8" font-size="37.3" fill="#fff" font-weight="bold" textLength="188" lengthAdjust="spacingAndGlyphs">CAPEX LTM</text>
<g>
<rect x="1433.6" y="2.3" width="154.1" height="154.4" fill="#fff" stroke="#0f66dc" stroke-width="4.6"/>
<g fill="none" stroke="#0f66dc" stroke-width="4.4" stroke-linecap="round" stroke-linejoin="round">
<path d="M1484.8,7.5 C1484,14 1482,20 1477.5,26 C1472,33 1465,37 1460,44 C1455.5,51 1454,58 1454.2,65 C1454.5,75 1457,84 1460,93 C1462.5,101 1464,108 1464,116 C1464,128 1460,140 1459.5,157"/>
<path d="M1484.8,7.5 C1490,13 1498,19 1510,22 C1522,25 1532,30 1538,38 C1543,46 1545,56 1548,64 C1551,74 1555,82 1561,88 C1567,94 1577,101 1584,110 C1586.5,114 1587.5,120 1587.7,126"/>
<ellipse cx="1503.6" cy="67.4" rx="31.7" ry="29.6" stroke-width="4.7"/>
<path d="M1508,101.5 C1496,106 1481,112 1466,115"/>
<path d="M1513,110 C1505,120 1490,129 1462.5,133"/>
<path d="M1520,104 C1530,98 1546,95 1565,93.5"/>
<path d="M1521,109 C1533,113 1552,108 1572,100"/>
<path d="M1511.5,112 C1500,118 1491,128 1487,140 C1485.5,146 1485,151 1485,157"/>
<path d="M1521,111 C1536,112 1552,116 1560,130 C1564,138 1564.5,148 1564.5,157"/>
<path d="M1481,137 C1479.5,143 1479,150 1479,157"/>
</g>
<g fill="none" stroke="#0f66dc" stroke-width="2.6" stroke-linecap="round">
<path d="M1465,123 C1472,121.5 1480,119.5 1487,117"/>
<path d="M1542,102.5 C1550,100.5 1557,98.5 1563.5,96"/>
<path d="M1556,114.5 C1562,122 1566,134 1567,155" stroke-width="3.8"/>
<path d="M1565,111 C1572,120 1576.5,134 1577,155" stroke-width="3.8"/>
</g>
<path d="M1507,103.5 C1510,100.5 1516,100 1520,102 C1517,106 1511,107 1507,103.5 Z" fill="#0f66dc"/>
<g fill="none" stroke="#0f66dc" stroke-width="1.7" stroke-linecap="round">
<path d="M1476.3,61.5 C1481,55.5 1490,50 1503.5,44.5" stroke-width="1.6"/>
<path d="M1478.3,56.5 C1483,51.5 1490,47 1500.5,42.8" stroke-width="1.6"/>
<path d="M1482.3,51.8 C1485.5,49 1489.5,46.5 1494.5,44.6" stroke-width="1.6"/>
<path d="M1502.5,44.6 C1508,44.5 1514,45.5 1519,47.5" stroke-width="1.9"/>
<path d="M1504.5,41.6 C1508,41.4 1512,41.6 1515.5,42.3"/>
<path d="M1480.3,67 C1483.5,65.3 1487,64.5 1490.4,64.5"/>
<path d="M1511,58 C1514,56 1517,55 1520.5,55.3"/>
<path d="M1478,73.5 C1482,69.5 1490,67.8 1497,69.3 C1493,74 1484,76.5 1478,73.5 Z"/><circle cx="1487.6" cy="72" r="2.5"/><path d="M1476.5,71 L1479,73.5 M1477,75.5 L1479.5,73.8"/>
<path d="M1508,66.5 C1513,61.5 1521,59 1527,59.5 C1522,64.5 1514,67.5 1508,66.5 Z"/><circle cx="1517.6" cy="63" r="2.5"/><path d="M1525,57.5 L1526.5,60 M1527.5,57.8 L1527,60.3"/>
<path d="M1500,86.5 C1503.5,83.5 1508.5,82.5 1513,83.5 C1514.5,86.5 1511.5,90.5 1507.5,90.5 C1504,90.5 1501.5,88.5 1500,86.5 Z"/><path d="M1501,86.6 C1505,86.8 1509,86 1513,84.5"/>
<path d="M1497,85 C1498.5,86 1499.5,86.5 1500.5,86.5 M1513.5,83.5 C1515,82.5 1516.5,81.5 1517.5,80"/>
</g>
<g fill="#0f66dc">
<circle cx="1491.8" cy="82.9" r="3.9"/>
<circle cx="1520" cy="74.7" r="3.9"/>
<circle cx="1487.3" cy="72" r="1.5"/>
<circle cx="1517.5" cy="62.5" r="1.5"/>
<circle cx="1504" cy="78.9" r="0.9"/>
<circle cx="1507.9" cy="77.3" r="0.9"/>
</g>
<g font-weight="bold" fill="#0f66dc" stroke="#0f66dc" stroke-width="1.1" text-anchor="middle" font-size="14">
<text x="1527.8" y="138.2" textLength="62.5" lengthAdjust="spacingAndGlyphs">ALËNKA</text>
<text x="1528.4" y="153.6" textLength="66" lengthAdjust="spacingAndGlyphs">CAPITAL</text>
</g>
</g>
</svg></body></html>
